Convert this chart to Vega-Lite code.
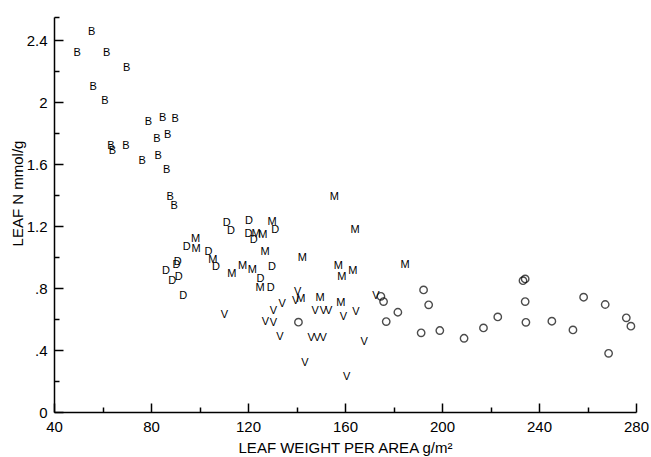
{
  "$schema": "https://vega.github.io/schema/vega-lite/v6.json",
  "width": 582,
  "height": 395,
  "autosize": {"type": "none"},
  "padding": {"left": 54, "top": 17, "right": 15, "bottom": 45},
  "background": "white",
  "config": {
    "view": {"stroke": null},
    "axis": {"grid": false, "domainColor": "black", "labelColor": "black", "titleColor": "black", "labelFont": "Liberation Sans", "titleFont": "Liberation Sans", "labelFontSize": 15, "titleFontSize": 15, "titleFontWeight": "normal", "domainWidth": 1.5, "labelFlush": false}
  },
  "data": {"values": [
    {"x": 55.5, "y": 2.45, "t": "B"}, {"x": 49.6, "y": 2.315, "t": "B"}, {"x": 61.7, "y": 2.315, "t": "B"}, {"x": 70.0, "y": 2.22, "t": "B"}, {"x": 56.2, "y": 2.10, "t": "B"}, {"x": 61.0, "y": 2.01, "t": "B"}, {"x": 78.9, "y": 1.87, "t": "B"}, {"x": 84.8, "y": 1.90, "t": "B"}, {"x": 90.0, "y": 1.89, "t": "B"}, {"x": 82.4, "y": 1.76, "t": "B"}, {"x": 86.9, "y": 1.79, "t": "B"}, {"x": 63.5, "y": 1.715, "t": "B"}, {"x": 64.1, "y": 1.687, "t": "B"}, {"x": 69.7, "y": 1.72, "t": "B"}, {"x": 76.4, "y": 1.62, "t": "B"}, {"x": 83.0, "y": 1.65, "t": "B"}, {"x": 86.5, "y": 1.56, "t": "B"}, {"x": 87.9, "y": 1.386, "t": "B"}, {"x": 89.6, "y": 1.33, "t": "B"},
    {"x": 94.7, "y": 1.068, "t": "D"}, {"x": 91.0, "y": 0.971, "t": "D"}, {"x": 90.5, "y": 0.95, "t": "D"}, {"x": 86.2, "y": 0.908, "t": "D"}, {"x": 88.8, "y": 0.848, "t": "D"}, {"x": 91.4, "y": 0.87, "t": "D"}, {"x": 93.3, "y": 0.752, "t": "D"}, {"x": 103.7, "y": 1.031, "t": "D"}, {"x": 106.8, "y": 0.939, "t": "D"}, {"x": 111.2, "y": 1.218, "t": "D"}, {"x": 113.0, "y": 1.166, "t": "D"}, {"x": 120.4, "y": 1.231, "t": "D"}, {"x": 131.2, "y": 1.175, "t": "D"}, {"x": 120.2, "y": 1.15, "t": "D"}, {"x": 122.4, "y": 1.113, "t": "D"}, {"x": 129.9, "y": 0.934, "t": "D"}, {"x": 125.1, "y": 0.859, "t": "D"}, {"x": 129.4, "y": 0.799, "t": "D"},
    {"x": 98.4, "y": 1.117, "t": "M"}, {"x": 98.6, "y": 1.055, "t": "M"}, {"x": 105.5, "y": 0.982, "t": "M"}, {"x": 155.6, "y": 1.386, "t": "M"}, {"x": 129.9, "y": 1.225, "t": "M"}, {"x": 123.3, "y": 1.15, "t": "M"}, {"x": 126.1, "y": 1.145, "t": "M"}, {"x": 127.0, "y": 1.031, "t": "M"}, {"x": 113.3, "y": 0.892, "t": "M"}, {"x": 117.8, "y": 0.945, "t": "M"}, {"x": 121.8, "y": 0.917, "t": "M"}, {"x": 125.0, "y": 0.801, "t": "M"}, {"x": 142.4, "y": 0.992, "t": "M"}, {"x": 157.3, "y": 0.941, "t": "M"}, {"x": 163.2, "y": 0.913, "t": "M"}, {"x": 158.7, "y": 0.87, "t": "M"}, {"x": 141.8, "y": 0.73, "t": "M"}, {"x": 149.7, "y": 0.737, "t": "M"}, {"x": 158.3, "y": 0.705, "t": "M"}, {"x": 184.8, "y": 0.952, "t": "M"}, {"x": 164.2, "y": 1.177, "t": "M"},
    {"x": 110.3, "y": 0.623, "t": "V"}, {"x": 134.1, "y": 0.694, "t": "V"}, {"x": 130.5, "y": 0.65, "t": "V"}, {"x": 127.2, "y": 0.584, "t": "V"}, {"x": 130.5, "y": 0.573, "t": "V"}, {"x": 133.2, "y": 0.483, "t": "V"}, {"x": 140.5, "y": 0.773, "t": "V"}, {"x": 139.7, "y": 0.719, "t": "V"}, {"x": 147.7, "y": 0.655, "t": "V"}, {"x": 151.1, "y": 0.655, "t": "V"}, {"x": 153.3, "y": 0.655, "t": "V"}, {"x": 159.4, "y": 0.612, "t": "V"}, {"x": 164.5, "y": 0.644, "t": "V"}, {"x": 146.0, "y": 0.48, "t": "V"}, {"x": 148.5, "y": 0.48, "t": "V"}, {"x": 151.0, "y": 0.48, "t": "V"}, {"x": 143.5, "y": 0.315, "t": "V"}, {"x": 160.7, "y": 0.229, "t": "V"}, {"x": 167.9, "y": 0.455, "t": "V"}, {"x": 172.8, "y": 0.752, "t": "V"},
    {"x": 140.8, "y": 0.58, "t": "O"}, {"x": 174.8, "y": 0.747, "t": "O"}, {"x": 175.9, "y": 0.713, "t": "O"}, {"x": 177.0, "y": 0.584, "t": "O"}, {"x": 181.8, "y": 0.644, "t": "O"}, {"x": 192.4, "y": 0.788, "t": "O"}, {"x": 194.5, "y": 0.692, "t": "O"}, {"x": 191.4, "y": 0.511, "t": "O"}, {"x": 199.1, "y": 0.526, "t": "O"}, {"x": 209.1, "y": 0.476, "t": "O"}, {"x": 217.1, "y": 0.543, "t": "O"}, {"x": 223.0, "y": 0.614, "t": "O"}, {"x": 233.4, "y": 0.848, "t": "O"}, {"x": 234.3, "y": 0.859, "t": "O"}, {"x": 234.3, "y": 0.713, "t": "O"}, {"x": 234.6, "y": 0.579, "t": "O"}, {"x": 245.3, "y": 0.586, "t": "O"}, {"x": 254.0, "y": 0.53, "t": "O"}, {"x": 258.4, "y": 0.741, "t": "O"}, {"x": 267.3, "y": 0.694, "t": "O"}, {"x": 268.7, "y": 0.379, "t": "O"}, {"x": 276.0, "y": 0.608, "t": "O"}, {"x": 277.9, "y": 0.554, "t": "O"}
  ]},
  "resolve": {"axis": {"x": "independent", "y": "independent"}},
  "layer": [
    {"transform": [{"filter": "datum.t === 'B' || datum.t === 'D'"}],
     "mark": {"type": "text", "font": "Liberation Sans", "fontSize": 11, "fill": "black", "align": "center", "baseline": "middle"},
     "encoding": {
       "x": {"field": "x", "type": "quantitative", "scale": {"domain": [40, 280], "nice": false, "zero": false},
         "axis": {"orient": "bottom", "title": "LEAF WEIGHT PER AREA  g/m²", "values": [40, 80, 120, 160, 200, 240, 280],
           "offset": -9, "tickSize": 9, "tickColor": "#000000", "tickWidth": 1.5, "domain": false, "labelPadding": 7, "titlePadding": 6}},
       "y": {"field": "y", "type": "quantitative", "scale": {"domain": [0, 2.55], "nice": false},
         "axis": {"orient": "left", "title": "LEAF N  mmol/g", "values": [0, 0.4, 0.8, 1.2, 1.6, 2, 2.4],
           "format": ".1~f",
           "labelExpr": "datum.value > 0 && datum.value < 1 ? replace(datum.label, '0.', '.') : datum.label",
           "offset": -9, "tickSize": 9, "tickColor": "#000000", "tickWidth": 1.5, "domain": false, "labelPadding": 7, "titlePadding": 1, "titleY": 176}},
       "text": {"field": "t"}}},
    {"transform": [{"filter": "datum.t === 'M' || datum.t === 'V'"}],
     "mark": {"type": "text", "font": "Liberation Sans", "fontSize": 11, "fill": "black", "align": "center", "baseline": "middle"},
     "encoding": {
       "x": {"field": "x", "type": "quantitative",
         "axis": {"orient": "bottom", "title": null, "values": [60, 100, 140, 180, 220, 260], "labels": false, "domain": false, "offset": -5, "tickSize": 5, "tickColor": "#000000", "tickWidth": 1.5}},
       "y": {"field": "y", "type": "quantitative",
         "axis": {"orient": "left", "title": null, "values": [0.2, 0.6, 1, 1.4, 1.8, 2.2, 2.55], "labels": false, "domain": false, "offset": -5, "tickSize": 5, "tickColor": "#000000", "tickWidth": 1.5}},
       "text": {"field": "t"}}},
    {"transform": [{"filter": "datum.t === 'O'"}],
     "mark": {"type": "point", "shape": "circle", "size": 55, "stroke": "black", "strokeWidth": 1.4, "filled": false},
     "encoding": {
       "x": {"field": "x", "type": "quantitative",
         "axis": {"orient": "bottom", "title": null, "values": [40], "labels": false, "ticks": false, "domain": true}},
       "y": {"field": "y", "type": "quantitative",
         "axis": {"orient": "left", "title": null, "values": [0], "labels": false, "ticks": false, "domain": true}}}}
  ]
}
